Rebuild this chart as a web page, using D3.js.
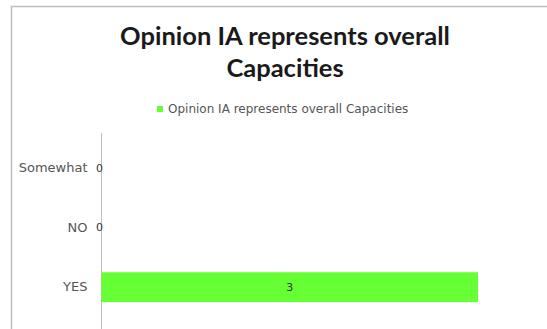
<!DOCTYPE html>
<html><head><meta charset="utf-8">
<script src="https://cdn.jsdelivr.net/npm/d3@7"></script>
<style>body{margin:0;background:#fff}svg{display:block}</style>
</head><body><svg id="c" width="547" height="329"></svg>
<script>
const categories = ["YES", "NO", "Somewhat"];
const values = [3, 0, 0];
const seriesName = "Opinion IA represents overall Capacities";
const titleLines = ["Opinion IA represents overall", "Capacities"];

const svg = d3.select("#c");
svg.append("rect").attr("x", 11.5).attr("y", 6.5).attr("width", 545).attr("height", 340)
  .attr("fill", "#fff").attr("stroke", "#bdbdbd").attr("stroke-width", 1.5);

const tfont = "Lato, 'Open Sans', sans-serif";
const font = "'DejaVu Sans', sans-serif";
svg.append("g").selectAll("text").data(titleLines).join("text")
  .attr("x", 285).attr("y", (d, i) => 45 + i * 32)
  .attr("text-anchor", "middle").attr("font-family", tfont)
  .attr("font-weight", "bold").attr("font-size", 25.5).attr("fill", "#1a1a1a")
  .text(d => d);

// legend
const lg = svg.append("g");
lg.append("rect").attr("x", 157).attr("y", 106).attr("width", 6).attr("height", 6).attr("fill", "#66ff33");
lg.append("text").attr("x", 168).attr("y", 113).attr("font-family", font).attr("font-size", 12)
  .attr("fill", "#555").text(seriesName);

const x = d3.scaleLinear().domain([0, 3]).range([101.5, 478]);
const y = d3.scaleBand().domain(categories.slice().reverse()).range([138, 317])
  .paddingInner(0.5).paddingOuter(0.25);

const yAxis = svg.append("g").attr("transform", "translate(101.5,0)")
  .call(d3.axisLeft(y).tickSize(0).tickPadding(14));
yAxis.select(".domain").remove();
yAxis.selectAll("text").attr("font-family", font).attr("font-size", 13).attr("fill", "#555");
svg.append("line").attr("x1", 101.5).attr("x2", 101.5).attr("y1", 133).attr("y2", 329)
  .attr("stroke", "#bdbdbd").attr("stroke-width", 1);

svg.append("g").selectAll("rect").data(categories).join("rect")
  .attr("x", x(0)).attr("y", (d) => y(d))
  .attr("width", (d, i) => x(values[i]) - x(0)).attr("height", y.bandwidth())
  .attr("fill", "#66ff33");

svg.append("g").selectAll("text").data(categories).join("text")
  .attr("x", (d, i) => values[i] > 0 ? (x(0) + x(values[i])) / 2 : x(0) - 2)
  .attr("y", d => y(d) + y.bandwidth() / 2)
  .attr("dy", "0.35em")
  .attr("text-anchor", "middle")
  .attr("font-family", font).attr("font-size", 11).attr("fill", "#333")
  .text((d, i) => values[i]);
</script></body></html>
